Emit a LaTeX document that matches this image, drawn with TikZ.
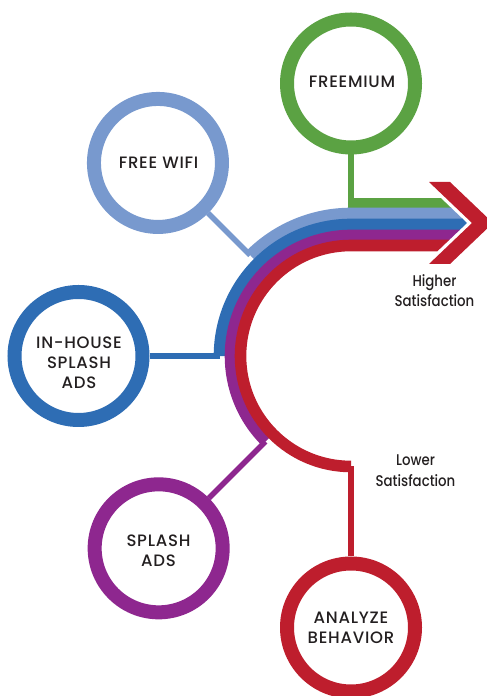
\documentclass[tikz,border=0pt]{standalone}
\usepackage{fontspec}
\setmainfont{Poppins}[UprightFont={* Medium}]
\usetikzlibrary{calc}
\definecolor{cgreen}{RGB}{91,162,67}
\definecolor{clblue}{RGB}{120,153,206}
\definecolor{cblue}{RGB}{46,109,180}
\definecolor{cpurple}{RGB}{142,39,143}
\definecolor{cred}{RGB}{190,30,45}
\definecolor{ctext}{RGB}{35,31,32}
\begin{document}
\begin{tikzpicture}[x=1pt,y=1pt,
  ring/.style={circle, draw=#1, line width=14pt, minimum size=128pt, inner sep=0pt, fill=white},
  ringtext/.style={align=center, text=ctext, inner sep=0pt, font=\fontsize{16.5}{19.8}\selectfont\addfontfeatures{LetterSpace=4.5}},
  lbl/.style={align=center, text=ctext, inner sep=0pt, font=\fontsize{15.5}{20.5}\selectfont\addfontfeatures{FakeStretch=0.86}},
  link/.style={draw=#1, line width=5.5pt},
  band/.style 2 args={draw=#1, line width=#2}]
\useasboundingbox (0,0) rectangle (487,696);
\coordinate (C) at (351,340);
% band ends
\coordinate (gstart) at (348.25,493);
\coordinate (gend) at (480,493);
\coordinate (lbend) at ($(C)+(135:142.5pt)$);
\coordinate (bend) at ($(C)+(180:131.5pt)$);
\coordinate (pend) at ($(C)+(225:121pt)$);
\coordinate (rend) at ($(C)+(270:110.5pt)$);
% circles
\node[ring=cgreen] (freemium) at ($(C)+(90:272.5pt)$) {};
\node[ring=clblue] (wifi) at ($(C)+(135:273pt)$) {};
\node[ring=cblue] (inhouse) at ($(C)+(180:272.5pt)$) {};
\node[ring=cpurple] (splash) at ($(C)+(225:272pt)$) {};
\node[ring=cred] (analyze) at ($(C)+(270:271.5pt)$) {};
% connectors
\draw[link=cgreen] (freemium) -- (351,495);
\draw[link=clblue] (wifi) -- (lbend);
\draw[link=cblue] (inhouse) -- (bend);
\draw[link=cpurple] (splash) -- (pend);
\draw[link=cred] (analyze) -- (rend);
% bands
\begin{scope}
  \clip (0,0) -- (0,514) -- (424,514) -- (467,473) -- (424,432) -- (424,0) -- cycle;
  \draw[band={cgreen}{10.6pt}] (gstart) -- (gend);
  \draw[band={clblue}{11.6pt}] (lbend) arc[start angle=135, end angle=90, radius=142.5pt] -- ++(140pt,0);
  \draw[band={cblue}{11.6pt}] (bend) arc[start angle=180, end angle=90, radius=131.5pt] -- ++(140pt,0);
  \draw[band={cpurple}{10.6pt}] (pend) arc[start angle=225, end angle=90, radius=121pt] -- ++(140pt,0);
  \draw[band={cred}{11.6pt}] (rend) arc[start angle=270, end angle=90, radius=110.5pt] -- ++(140pt,0);
\end{scope}
% chevron
\begin{scope}
  \clip (0,0) rectangle (487,696);
  \fill[cred] (429,514) -- (450,514) -- (493,473) -- (450,432) -- (429,432) -- (472,473) -- cycle;
\end{scope}
% texts
\node[ringtext] (tfreemium) at (352,614) {FREEMIUM};
\node[ringtext] (twifi) at (158.5,533) {FREE WIFI};
\node[ringtext] (tinhouse) at (79,333.5) {IN-HOUSE\\SPLASH\\ADS};
\node[ringtext] (tsplash) at (158.5,145) {SPLASH\\ADS};
\node[ringtext] (tanalyze) at (351,68) {ANALYZE\\BEHAVIOR};
\node[lbl] (higher) at (434.5,405.5) {Higher\\Satisfaction};
\node[lbl] (lower) at (415.5,225.5) {Lower\\Satisfaction};
\end{tikzpicture}
\end{document}
